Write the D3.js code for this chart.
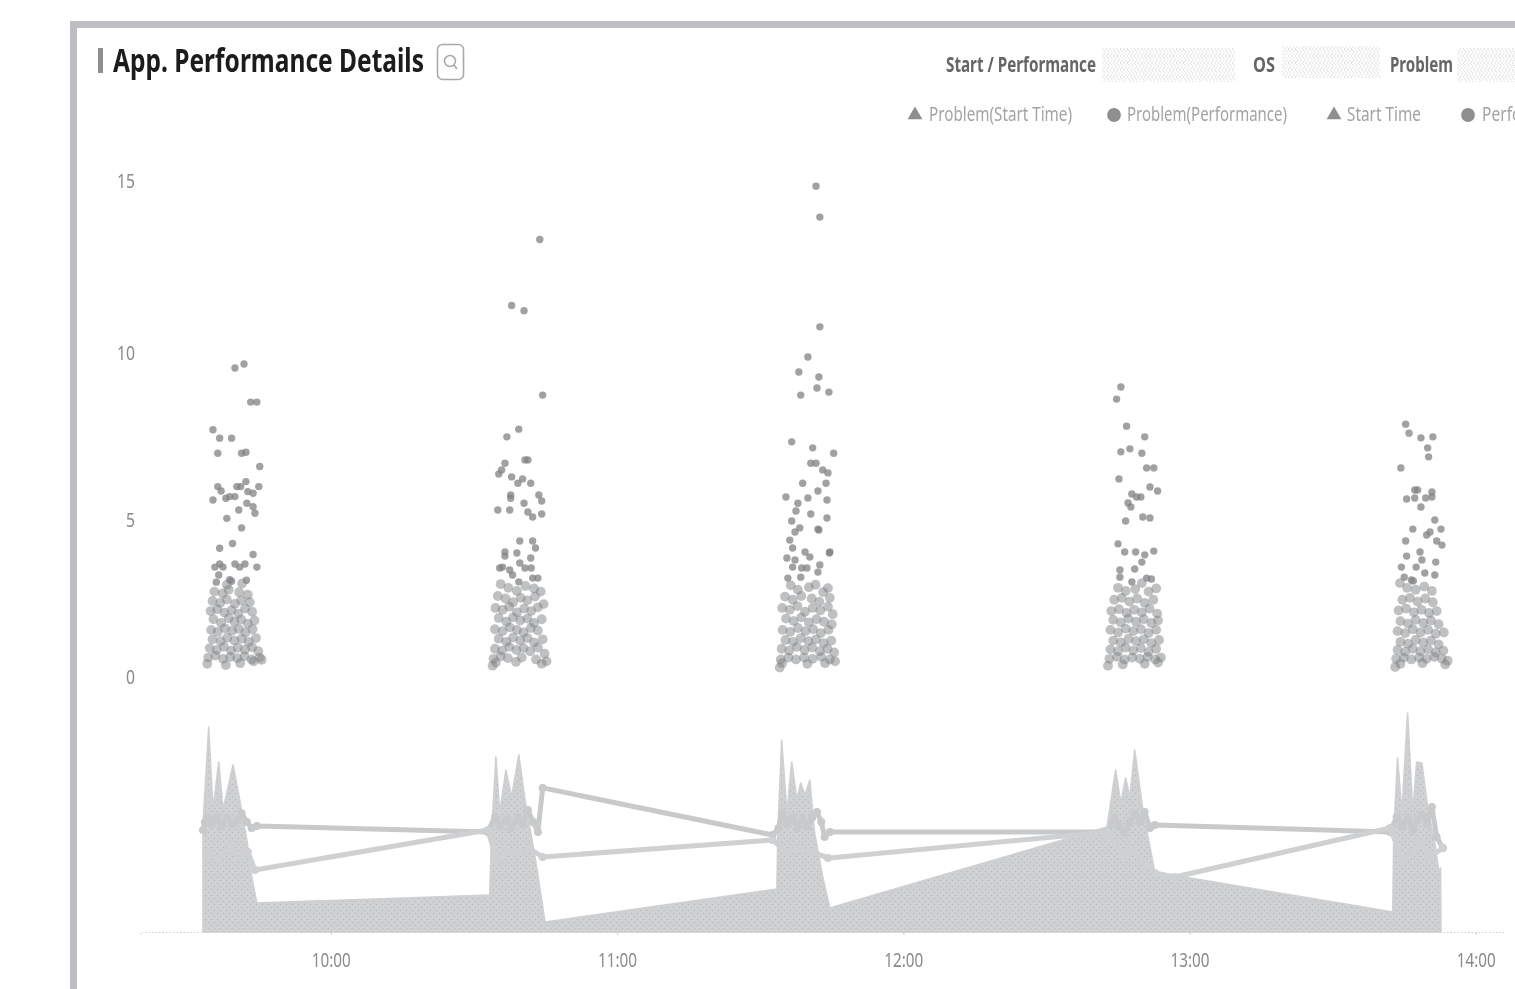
<!DOCTYPE html>
<html>
<head>
<meta charset="utf-8">
<script src="https://cdn.jsdelivr.net/npm/d3@7"></script>
<style>
  html, body { margin: 0; padding: 0; background: #fff; overflow: hidden; }
  text { font-family: "Liberation Sans Narrow", "Noto Sans", sans-serif; }
</style>
</head>
<body>
<div id="chart"></div>
<script>
var xTicks = [600, 660, 720, 780, 840];
var xTickLabels = ["10:00", "11:00", "12:00", "13:00", "14:00"];
var yTicks = [0, 5, 10, 15];

// [minute of day, value], one array per burst
var burst1 = [[579.9,9.55],[581.8,9.67],[583.2,8.53],[584.5,8.53],[575.3,7.7],[576.7,7.45],[579.2,7.45],[576.3,7],[581.3,7],[582.2,7.03],[585.1,6.6],[576.3,6],[577,5.87],[580.3,6],[581.1,6],[582.2,6.15],[584.9,6],[582.6,5.85],[583.7,5.8],[575.3,5.6],[578,5.65],[578.8,5.7],[579.9,5.7],[582.4,5.5],[583.7,5.4],[580.7,5.3],[584.1,5.2],[578.2,5.05],[581.3,4.75],[576.7,4.1],[579.4,4.25],[583.7,3.9],[576.7,3.6],[575.7,3.5],[577.4,3.5],[579.9,3.6],[580.9,3.5],[582,3.6],[584.5,3.5],[576.5,3.25],[578.8,3.1],
  [576,3.02],[578.2,2.94],[579.2,3.05],[581.4,2.98],[582.3,3.08],[575.6,2.72],[577.3,2.66],[578.6,2.78],[580.8,2.7],[582.6,2.62],[575.2,2.42],[576.8,2.36],[578.2,2.47],[579.9,2.33],[581.2,2.44],[583,2.38],[574.8,2.1],[576.2,2.16],[577.7,2.05],[579.2,2.13],[580.6,2.02],[582,2.18],[583.5,2.08],[575.4,1.84],[577,1.72],[578.6,1.87],[579.8,1.76],[581.2,1.83],[582.6,1.7],[584,1.8],[574.9,1.5],[576.3,1.44],[577.8,1.55],[579.3,1.47],[580.7,1.53],[582.1,1.42],[583.6,1.52],[575.2,1.2],[576.9,1.14],[578.3,1.25],[579.8,1.16],[581.3,1.22],[582.8,1.12],[584.3,1.24],[574.6,0.92],[576.1,0.86],[577.6,0.96],[579.1,0.84],[580.5,0.93],[582,0.87],[583.5,0.95],[584.8,0.82],[574.3,0.62],[575.8,0.68],[577.4,0.58],[578.9,0.64],[580.4,0.6],[581.9,0.66],[583.4,0.56],[585.1,0.62],[574.1,0.42],[578,0.38],[581,0.44],[583.8,0.5],[585.5,0.55]];

var burst2 = [[643.8,13.3],[637.9,11.38],[640.5,11.23],[644.4,8.74],[639.4,7.72],[636.9,7.49],[641.3,6.8],[640.7,6.8],[636.5,6.7],[635.8,6.5],[635.2,6.38],[637.9,6.29],[639.2,6.1],[640.2,6.23],[641.9,6.1],[637.7,5.75],[637.7,5.65],[643.6,5.75],[644.2,5.57],[635,5.3],[637.5,5.3],[640.5,5.5],[641.3,5.24],[642.3,5.09],[644.2,5.18],[639.6,4.33],[642.3,4.33],[642.9,4.11],[636.5,3.98],[636.5,3.85],[639,3.95],[641.9,3.79],[636,3.5],[637.5,3.41],[639.6,3.63],[640.7,3.47],[642.3,3.15],[643.4,3.15],[642,3.47],[635.4,3.47],[638.1,3.25],[639.4,3.03],
  [635.6,2.96],[637.2,2.84],[639,2.74],[640.8,2.9],[642.6,2.82],[644,2.72],[635,2.58],[636.6,2.5],[638.2,2.38],[639.8,2.52],[641.2,2.44],[642.8,2.56],[644.6,2.32],[634.5,2.2],[636,2.14],[637.4,2.24],[639,2.06],[640.5,2.18],[642,2.1],[643.4,2.22],[635.2,1.88],[636.8,1.76],[638.2,1.9],[639.7,1.8],[641.2,1.86],[642.6,1.72],[644.2,1.84],[634.4,1.52],[636,1.46],[637.5,1.58],[639,1.5],[640.4,1.42],[641.9,1.56],[643.4,1.48],[635.2,1.22],[636.8,1.12],[638.2,1.26],[639.7,1.16],[641.2,1.24],[642.6,1.1],[644.4,1.2],[634.4,0.9],[635.9,0.84],[637.4,0.96],[638.9,0.86],[640.4,0.92],[641.8,0.82],[643.4,0.94],[644.8,0.74],[634.1,0.58],[635.6,0.66],[637.1,0.6],[640,0.62],[643,0.56],[645.2,0.5],[633.9,0.36],[634.6,0.46],[638.8,0.48],[644.2,0.42]];

var burst3 = [[701.7,14.85],[702.5,13.95],[702.5,10.76],[700,9.88],[698.1,9.43],[702.3,9.28],[701.9,8.95],[704.4,8.83],[698.5,8.74],[696.6,7.34],[701,7.16],[705.4,7],[700.6,6.7],[701.7,6.7],[703.1,6.5],[704.2,6.41],[698.9,6.1],[703.8,6.1],[702.1,5.87],[695.4,5.69],[700,5.66],[704,5.6],[697.9,5.5],[697.5,5.27],[700.6,5.18],[704,5.06],[696.6,4.97],[698.3,4.75],[697.3,4.62],[696.2,4.36],[702.1,4.71],[702.3,4.68],[696.8,4.11],[704.6,3.98],[704.5,3.95],[699.4,3.98],[700.4,3.82],[695.6,3.79],[697.3,3.73],[696.8,3.5],[698.7,3.47],[699.8,3.47],[702.5,3.57],[702.1,3.34],[695.8,3.15],[698.5,3.18],[704.2,2.83],
  [696.4,2.92],[697.9,2.78],[700.2,2.86],[701.6,2.94],[703.2,2.7],[695.2,2.56],[696.8,2.46],[698.6,2.58],[700.8,2.5],[702.4,2.4],[704.6,2.52],[694.6,2.2],[696.2,2.14],[697.8,2.26],[699.4,2.08],[701,2.2],[702.6,2.12],[704.2,2.24],[705.2,2],[695.4,1.86],[697,1.78],[698.6,1.9],[700.2,1.74],[701.8,1.84],[703.4,1.76],[705,1.68],[694.7,1.5],[696.3,1.44],[697.9,1.56],[699.5,1.46],[701.1,1.52],[702.7,1.4],[704.3,1.5],[695.3,1.18],[696.9,1.12],[698.5,1.24],[700.1,1.14],[701.7,1.2],[703.3,1.08],[704.9,1.16],[694.5,0.9],[696.1,0.84],[697.7,0.96],[699.3,0.86],[700.9,0.94],[702.5,0.82],[704.1,0.9],[705.5,0.78],[694.3,0.56],[695.9,0.62],[697.5,0.56],[699.2,0.62],[701,0.58],[702.8,0.64],[704.6,0.56],[705.7,0.5],[694.1,0.3],[694.6,0.44],[699.9,0.42],[703.6,0.44]];

var burst4 = [[765.6,8.98],[764.7,8.62],[766.8,7.81],[770.6,7.49],[765.6,7.04],[767.5,7.13],[770,7],[771,6.56],[772.5,6.56],[765.2,6.23],[771.7,5.99],[773.3,5.87],[767.9,5.78],[768.9,5.69],[769.8,5.69],[767.1,5.51],[767.7,5.39],[766.6,4.97],[770.2,5.09],[771.7,5.06],[765,4.24],[766.4,3.98],[768.7,3.98],[770.6,3.89],[772.5,4.01],[770,3.66],[768.5,3.44],[765.4,3.41],[765.4,3.18],[767.9,3.03],[771,3.15],[772,3.12],[770,2.99],
  [765,2.84],[766.6,2.74],[768.6,2.8],[771.4,2.72],[773,2.82],[764.2,2.46],[765.8,2.52],[767.4,2.4],[769,2.5],[770.6,2.36],[772.4,2.46],[763.6,2.1],[765.2,2.16],[766.8,2.04],[768.4,2.14],[770,2.06],[771.6,2.18],[773.2,2.02],[764,1.82],[765.6,1.74],[767.2,1.86],[768.8,1.76],[770.4,1.84],[772,1.72],[773.4,1.8],[763.4,1.5],[765,1.42],[766.6,1.54],[768.2,1.46],[769.8,1.52],[771.4,1.4],[773,1.5],[764,1.16],[765.6,1.1],[767.2,1.22],[768.8,1.14],[770.4,1.2],[772,1.08],[773.6,1.18],[763.4,0.88],[765,0.82],[766.6,0.94],[768.2,0.84],[769.8,0.92],[771.4,0.8],[773,0.9],[763.2,0.58],[764.8,0.64],[766.4,0.56],[768,0.62],[769.6,0.58],[771.2,0.64],[772.8,0.56],[774,0.62],[762.9,0.36],[766,0.4],[770.6,0.42],[773.4,0.46]];

var burst5 = [[825.3,7.87],[826,7.6],[828.5,7.46],[831,7.49],[829.9,7.16],[830.1,6.89],[824.3,6.56],[827.2,5.9],[827.8,5.9],[830.8,5.84],[825.5,5.63],[827.2,5.66],[829.5,5.66],[830.8,5.69],[828.5,5.39],[831.4,5],[826.8,4.71],[832.7,4.71],[830.4,4.62],[829.7,4.52],[825.3,4.33],[831.8,4.33],[832.9,4.2],[825.5,3.85],[828.3,3.98],[828.7,3.73],[831.6,3.66],[824.4,3.5],[827.5,3.5],[829.3,3.31],[825,3.18],[826.5,3.09],[826.9,3.06],[831.4,3.25],[824.1,2.99],
  [825.6,2.84],[827.4,2.78],[829.2,2.88],[830.8,2.74],[824.6,2.46],[826.2,2.52],[827.8,2.4],[829.4,2.5],[831,2.38],[823.8,2.12],[825.4,2.18],[827,2.06],[828.6,2.14],[830.2,2.04],[831.8,2.1],[824.2,1.78],[825.8,1.7],[827.4,1.82],[829,1.72],[830.6,1.8],[832.2,1.68],[823.6,1.46],[825.2,1.4],[826.8,1.52],[828.4,1.42],[830,1.5],[831.6,1.38],[833.3,1.42],[824.2,1.12],[825.8,1.06],[827.4,1.18],[829,1.1],[830.6,1.16],[832.2,1.04],[823.6,0.86],[825.2,0.8],[826.8,0.9],[828.4,0.82],[830,0.88],[831.6,0.78],[833.2,0.84],[823.3,0.58],[824.9,0.62],[826.5,0.56],[828.1,0.62],[829.7,0.58],[831.3,0.64],[832.9,0.58],[834.1,0.52],[823.1,0.32],[824.2,0.42],[828.8,0.44],[833.6,0.4]];

// lower panel: filled series and the two lines on top of it
var areaSeries = [[573.2,0],[573.2,48.6],[574.4,93.2],[575.3,55.5],[576.5,77.3],[577.4,55.5],[579.5,75.9],[580.9,60],[582.4,41.8],[583.4,25],[584.5,13.2],[633.3,16.8],[633.7,45],[634.6,79.5],[635.4,54.1],[636.7,73.6],[637.9,61.4],[639.4,80.5],[640.7,60],[642.8,34.1],[644.2,14.5],[644.9,4.5],[693.5,19.5],[693.7,45],[694.5,87.3],[695.6,54.1],[696.6,77.3],[697.7,60],[698.5,67.7],[699.4,62.3],[700.4,69.1],[701.4,45],[703.1,25],[704.6,10.9],[762.7,47.7],[764.5,73.6],[765.6,58.6],[766.6,70],[767.5,61.4],[768.5,82.7],[770.2,55.5],[772.7,27.3],[822.6,9.1],[822.8,45],[823.6,79.1],[824.5,54.1],[825.7,99.5],[826.8,54.1],[827.6,77.3],[828.7,76.8],[829.9,56.8],[831.4,40.5],[832.2,28.2],[832.6,29.1],[832.7,0]];
var lineA = [[573.2,46.4],[573.6,50],[574.2,52],[575,49],[576.1,52],[577,48],[578.2,52],[579.4,49],[580.4,51],[581.3,54],[582.4,50],[583.4,47.3],[584.5,48.2],
  [632.9,45.5],[634.4,52.3],[635.4,48],[636.9,51],[637.8,47],[639.2,52],[640.2,49],[641.3,55.5],[642.4,50],[643.4,45.5],[644.4,65.5],
  [692.6,44.1],[693.8,47],[694.5,54.1],[695.6,49],[696.8,52],[697.8,47],[698.9,52],[699.8,48],[700.9,52],[701.9,54.5],[702.8,50],[703.5,43.2],[704.6,45.5],
  [762.7,45.5],[764.3,52],[765.2,48],[766.4,45],[767.4,50],[768.5,54],[769.6,50],[770.6,54.5],[771.7,47.3],[772.7,48.6],
  [822,45.5],[823.4,52.3],[824.6,48],[825.8,52],[826.8,46],[827.8,51],[828.7,53.2],[829.8,49],[830.8,56.8],[831.8,43.2],[833.1,38.2]];
var lineB = [[574.6,35.9],[576.4,33],[578.8,38.6],[580.6,34],[582.6,36.4],[584.1,28.2],[632.9,46.4],[634.8,32.7],[636.8,37],[639,35.9],[641.6,38],[644.4,34.1],[692.6,41.8],[695.6,35.9],[698,38],[701,36.4],[704.2,33.6],[762.7,45.5],[766,34.1],[768.1,37.3],[771,29.5],[772.7,26.8],[776.9,25],[822,47.3],[824.7,32.7],[828.3,40.5],[830.4,34.1],[833.1,38.2]];

var legendTop = ["Start / Performance", "OS", "Problem"];
var legendBottom = ["Problem(Start Time)", "Problem(Performance)", "Start Time", "Performance"];

var svgRoot = d3.select("#chart").append("svg")
  .attr("width", 1515)
  .attr("height", 989)
  .style("display", "block");

var defs = svgRoot.append("defs");

// soft edges like the reference
defs.append("filter").attr("id", "soft")
    .attr("x", "-5%").attr("y", "-5%").attr("width", "110%").attr("height", "110%")
  .append("feGaussianBlur").attr("stdDeviation", 0.7);

var dots = defs.append("pattern").attr("id", "dots")
  .attr("width", 6).attr("height", 6).attr("patternUnits", "userSpaceOnUse");
dots.append("rect").attr("width", 6).attr("height", 6).attr("fill", "#d0d1d3");
dots.append("circle").attr("cx", 1.5).attr("cy", 1.5).attr("r", 0.8).attr("fill", "#babbbd");
dots.append("circle").attr("cx", 4.5).attr("cy", 4.5).attr("r", 0.8).attr("fill", "#babbbd");

var zig = defs.append("pattern").attr("id", "zig")
  .attr("width", 7).attr("height", 7).attr("patternUnits", "userSpaceOnUse");
zig.append("path").attr("d", "M0 0L3.5 3.5L0 7M3.5 0L7 3.5L3.5 7")
  .attr("fill", "none").attr("stroke", "#e0e0e0").attr("stroke-width", 1);

var svg = svgRoot.append("g").attr("filter", "url(#soft)");

// frame, cut off by the window on the right and bottom
svg.append("rect").attr("x", 70).attr("y", 21).attr("width", 1445).attr("height", 7).attr("fill", "#bcbec1");
svg.append("rect").attr("x", 70).attr("y", 21).attr("width", 7).attr("height", 968).attr("fill", "#bcbec1");

// title
svg.append("rect").attr("x", 98).attr("y", 48).attr("width", 5).attr("height", 25).attr("fill", "#8e8e8e");
svg.append("text").attr("x", 113).attr("y", 72)
  .attr("font-size", 33).attr("font-weight", 700).attr("fill", "#1a1a1a")
  .attr("textLength", 311).attr("lengthAdjust", "spacingAndGlyphs")
  .text("App. Performance Details");
svg.append("rect").attr("x", 437.5).attr("y", 44.5).attr("width", 26).attr("height", 35).attr("rx", 5)
  .attr("fill", "#fff").attr("stroke", "#a9a9a9").attr("stroke-width", 1.6);
svg.append("circle").attr("cx", 450).attr("cy", 61).attr("r", 5.5)
  .attr("fill", "none").attr("stroke", "#a9a9a9").attr("stroke-width", 1.5);
svg.append("line").attr("x1", 454).attr("y1", 65).attr("x2", 457).attr("y2", 69)
  .attr("stroke", "#a9a9a9").attr("stroke-width", 1.5);

// legend, first row: labels and their masked value boxes
var topX = [946, 1253, 1390], topW = [150, 22, 63];
var boxX = [1102, 1282, 1457], boxW = [133, 98, 70], boxY = [48, 46, 48], boxH = [34, 32, 34];
legendTop.forEach(function(t, i) {
  svg.append("text").attr("x", topX[i]).attr("y", 72)
    .attr("font-size", 21).attr("font-weight", 700).attr("fill", "#666")
    .attr("textLength", topW[i]).attr("lengthAdjust", "spacingAndGlyphs")
    .text(t);
  svg.append("rect").attr("x", boxX[i]).attr("y", boxY[i]).attr("width", boxW[i]).attr("height", boxH[i])
    .attr("fill", "url(#zig)");
});

// legend, second row
var symX = [915, 1114, 1334, 1468], labelX = [929, 1127, 1347, 1482];
var labelW = [143, 160, 74, 95];
var tri = d3.symbol().type(d3.symbolTriangle).size(95);
var cir = d3.symbol().type(d3.symbolCircle).size(150);
legendBottom.forEach(function(t, i) {
  svg.append("path")
    .attr("d", i % 2 == 0 ? tri() : cir())
    .attr("transform", "translate(" + symX[i] + ",115)")
    .attr("fill", "#8f8f8f");
  svg.append("text").attr("x", labelX[i]).attr("y", 121)
    .attr("font-size", 20).attr("fill", "#a3a3a3")
    .attr("textLength", labelW[i]).attr("lengthAdjust", "spacingAndGlyphs")
    .text(t);
});

// scales: the reference's value axis is not quite even, so it is piecewise
var x = d3.scaleLinear().domain([560, 845.7]).range([140, 1503]);
var yTop = d3.scaleLinear().domain(yTicks).range([677, 520, 353, 181]);
var yBottom = d3.scaleLinear().domain([0, 100]).range([932, 712]);

// y axis
var yAxis = svg.append("g").attr("transform", "translate(135,0)")
  .call(d3.axisLeft(yTop).tickValues(yTicks).tickSize(0).tickPadding(0).tickFormat(d3.format("d")));
yAxis.select(".domain").remove();
yAxis.selectAll("text")
  .style("font-size", "20px")
  .attr("fill", "#8a8a8a")
  .attr("textLength", function(d) { return d < 10 ? 9 : 18; })
  .attr("lengthAdjust", "spacingAndGlyphs");

// area and lines
var area = d3.area()
  .x(function(d) { return x(d[0]); })
  .y0(yBottom(0))
  .y1(function(d) { return yBottom(d[1]); });
var line = d3.line()
  .x(function(d) { return x(d[0]); })
  .y(function(d) { return yBottom(d[1]); });

svg.append("path").datum(areaSeries).attr("d", area)
  .attr("fill", "url(#dots)")
  .attr("stroke", "#cfd0d2").attr("stroke-width", 1.6).attr("stroke-linejoin", "round");

[lineA, lineB].forEach(function(s, i) {
  var c = i == 0 ? "#c8c9cb" : "#cfd0d2";
  svg.append("path").datum(s).attr("d", line)
    .attr("fill", "none")
    .attr("stroke", c)
    .attr("stroke-width", 5)
    .attr("stroke-linejoin", "round");
  svg.append("g").selectAll("circle")
    .data(s)
    .enter()
    .append("circle")
      .attr("cx", function(d) { return x(d[0]); })
      .attr("cy", function(d) { return yBottom(d[1]); })
      .attr("r", 4)
      .attr("fill", c);
});

// x axis
var xAxis = svg.append("g").attr("transform", "translate(0,932)")
  .call(d3.axisBottom(x).tickValues(xTicks)
    .tickFormat(function(d, i) { return xTickLabels[i]; })
    .tickSize(3).tickPadding(18));
xAxis.select(".domain").attr("stroke", "#cfcfcf").attr("stroke-dasharray", "1.5 2");
xAxis.selectAll("line").attr("stroke", "#cfcfcf");
xAxis.selectAll("text")
  .style("font-size", "20px")
  .attr("fill", "#8a8a8a")
  .attr("textLength", 39)
  .attr("lengthAdjust", "spacingAndGlyphs");

// points
[burst1, burst2, burst3, burst4, burst5].forEach(function(b) {
  svg.append("g").selectAll("circle")
    .data(b)
    .enter()
    .append("circle")
      .attr("cx", function(d) { return x(d[0]); })
      .attr("cy", function(d) { return yTop(d[1]); })
      .attr("r", function(d) { return d[1] > 3 ? 3.7 : 4.9; })
      .attr("fill", "#808184")
      .attr("fill-opacity", function(d) { return d[1] > 3 ? 0.75 : 0.5; });
});
</script>
</body>
</html>
